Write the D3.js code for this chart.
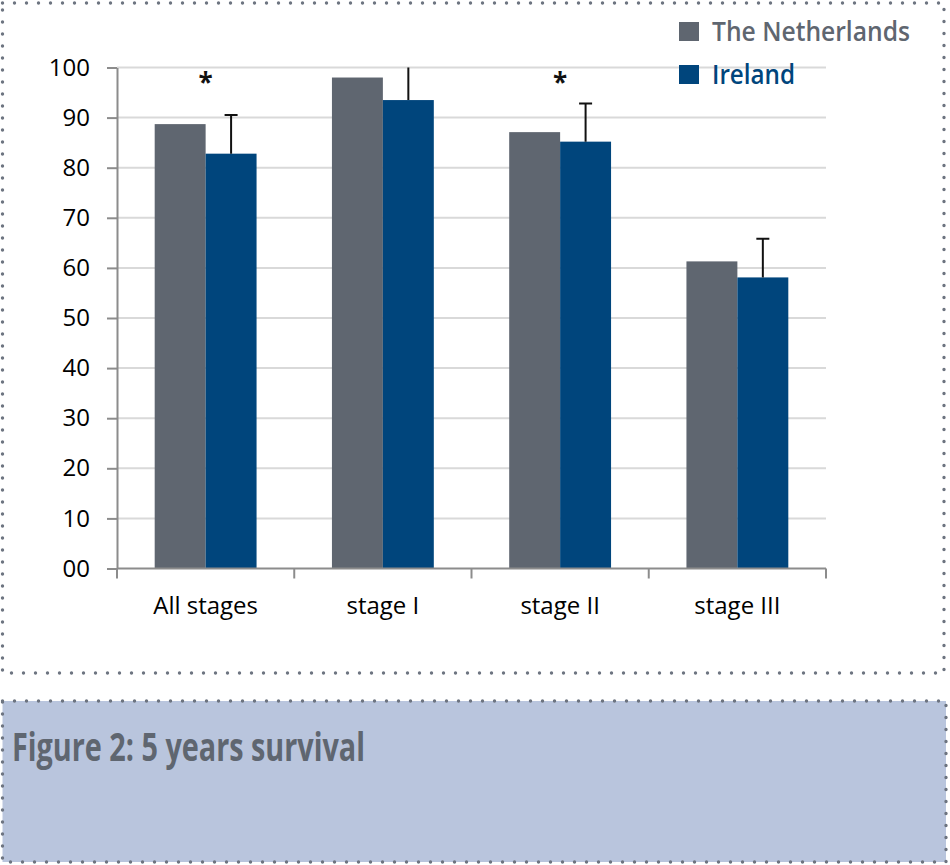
<!DOCTYPE html>
<html>
<head>
<meta charset="utf-8">
<script src="https://cdn.jsdelivr.net/npm/d3@7"></script>
<style>
  body { margin: 0; background: #fff; }
  svg { display: block; }
</style>
</head>
<body>
<script>
const width = 950;
const height = 865;

// data
const categories = ['All stages', 'stage I', 'stage II', 'stage III'];
const series = ['The Netherlands', 'Ireland'];
const netherlands = [88.7, 98.0, 87.1, 61.3];
const ireland = [82.8, 93.5, 85.2, 58.1];
const irelandUpper = [90.5, 101.5, 92.8, 65.8];   // top of error bars
const significant = [true, false, true, false];
const yTicks = [0, 10, 20, 30, 40, 50, 60, 70, 80, 90, 100];
const yTickLabels = ['00', '10', '20', '30', '40', '50', '60', '70', '80', '90', '100'];

const colors = ['#5f6670', '#00457c'];
const font = '"Open Sans", "Noto Sans", sans-serif';

const svg = d3.select('body').append('svg')
    .attr('width', width)
    .attr('height', height);

// dotted frames
const dotted = (x, y, w, h, fill) => svg.append('rect')
    .attr('x', x).attr('y', y).attr('width', w).attr('height', h)
    .attr('fill', fill)
    .attr('stroke', '#6d7480')
    .attr('stroke-width', 3.4)
    .attr('stroke-linecap', 'round')
    .attr('stroke-dasharray', '0 12');

dotted(2.5, 3, 941.5, 670, 'none');
dotted(2.5, 701, 943.5, 161, '#b9c5dd');

const plot = {left: 117, right: 826, top: 67.5, bottom: 568.5};

const x = d3.scaleBand()
    .domain(categories)
    .range([plot.left, plot.right])
    .padding(0);

const xs = d3.scaleBand()
    .domain(series)
    .range([0, x.bandwidth()])
    .paddingInner(0)
    .paddingOuter(0.74);

const y = d3.scaleLinear()
    .domain([0, 100])
    .range([plot.bottom, plot.top]);

svg.append('defs').append('clipPath')
    .attr('id', 'plot-clip')
    .append('rect')
    .attr('x', plot.left)
    .attr('y', y(100))
    .attr('width', plot.right - plot.left)
    .attr('height', plot.bottom - y(100));

// gridlines
svg.append('g')
    .selectAll('line')
    .data(yTicks.filter(d => d > 0))
    .enter()
    .append('line')
    .attr('x1', plot.left)
    .attr('x2', plot.right)
    .attr('y1', d => y(d))
    .attr('y2', d => y(d))
    .attr('stroke', '#d9d9d9')
    .attr('stroke-width', 2);

// bars
const rows = categories.map((c, i) => ({
    category: c,
    values: [netherlands[i], ireland[i]],
    upper: irelandUpper[i],
    star: significant[i]
}));

const group = svg.append('g')
    .selectAll('g')
    .data(rows)
    .enter()
    .append('g')
    .attr('transform', d => `translate(${x(d.category)},0)`);

group.selectAll('rect')
    .data(d => d.values.map((v, j) => ({series: series[j], value: v, j})))
    .enter()
    .append('rect')
    .attr('x', d => xs(d.series))
    .attr('width', xs.bandwidth())
    .attr('y', d => y(d.value))
    .attr('height', d => y(0) - y(d.value))
    .attr('fill', d => colors[d.j]);

// error bars on Ireland
const err = svg.append('g').attr('clip-path', 'url(#plot-clip)');
rows.forEach(d => {
    const cx = x(d.category) + xs('Ireland') + xs.bandwidth() / 2;
    err.append('line')
        .attr('x1', cx).attr('x2', cx)
        .attr('y1', y(d.values[1])).attr('y2', y(d.upper))
        .attr('stroke', '#111').attr('stroke-width', 2);
    err.append('line')
        .attr('x1', cx - 6.5).attr('x2', cx + 6.5)
        .attr('y1', y(d.upper)).attr('y2', y(d.upper))
        .attr('stroke', '#111').attr('stroke-width', 2);
});

// significance markers
svg.append('g')
    .selectAll('text')
    .data(rows.filter(d => d.star))
    .enter()
    .append('text')
    .attr('x', d => x(d.category) + x.bandwidth() / 2)
    .attr('y', y(95.2))
    .attr('text-anchor', 'middle')
    .attr('font-family', font)
    .attr('font-weight', 'bold')
    .attr('font-size', 26)
    .attr('fill', '#111')
    .text('*');

// y axis
const yAxis = svg.append('g')
    .attr('transform', `translate(${plot.left},0)`)
    .call(d3.axisLeft(y)
        .tickValues(yTicks)
        .tickFormat((d, i) => yTickLabels[i])
        .tickSize(10)
        .tickSizeOuter(0)
        .tickPadding(17));

yAxis.select('.domain').attr('stroke', '#8c8c8c').attr('stroke-width', 2);
yAxis.selectAll('.tick line').attr('stroke', '#8c8c8c').attr('stroke-width', 2);
yAxis.selectAll('.tick text')
    .attr('font-family', font)
    .attr('font-size', 24)
    .attr('fill', '#000');

// x axis
const xAxis = svg.append('g')
    .attr('transform', `translate(0,${plot.bottom})`);

xAxis.append('line')
    .attr('x1', plot.left).attr('x2', plot.right)
    .attr('stroke', '#8c8c8c').attr('stroke-width', 2);

const bounds = categories.map(c => x(c)).concat([plot.right]);
xAxis.selectAll('.xtick')
    .data(bounds)
    .enter()
    .append('line')
    .attr('class', 'xtick')
    .attr('x1', d => d).attr('x2', d => d)
    .attr('y1', 0).attr('y2', 10)
    .attr('stroke', '#8c8c8c').attr('stroke-width', 2);

xAxis.selectAll('text')
    .data(categories)
    .enter()
    .append('text')
    .attr('x', d => x(d) + x.bandwidth() / 2)
    .attr('y', 45.5)
    .attr('text-anchor', 'middle')
    .attr('font-family', font)
    .attr('font-size', 24)
    .attr('fill', '#000')
    .text(d => d);

// legend
const legend = svg.append('g')
    .selectAll('g')
    .data(series)
    .enter()
    .append('g')
    .attr('transform', (d, i) => `translate(679,${22 + i * 43})`);

legend.append('rect')
    .attr('width', 20)
    .attr('height', 19)
    .attr('fill', (d, i) => colors[i]);

legend.append('text')
    .attr('x', 33)
    .attr('y', 18.7)
    .attr('font-family', font)
    .attr('font-weight', 600)
    .attr('font-size', 27)
    .attr('fill', (d, i) => colors[i])
    .attr('textLength', (d, i) => [198, 83][i])
    .attr('lengthAdjust', 'spacingAndGlyphs')
    .text(d => d);

// caption
svg.append('text')
    .attr('x', 12)
    .attr('y', 760.7)
    .attr('font-family', '"Liberation Sans Narrow", "Open Sans", sans-serif')
    .attr('font-weight', 'bold')
    .attr('font-size', 40)
    .attr('fill', '#5f6670')
    .attr('textLength', 353)
    .attr('lengthAdjust', 'spacingAndGlyphs')
    .text('Figure 2: 5 years survival');
</script>
</body>
</html>
